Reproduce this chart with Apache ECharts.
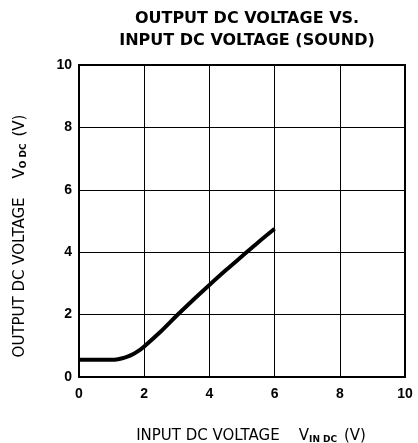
<!DOCTYPE html>
<html>
<head>
<meta charset="utf-8">
<script src="https://cdn.jsdelivr.net/npm/echarts@6/dist/echarts.min.js"></script>
<style>
  html, body { margin: 0; padding: 0; background: #fff; }
  #chart { width: 418px; height: 443px; }
</style>
</head>
<body>
<div id="chart"></div>
<script>
// input DC voltage (V) and output DC voltage (V)
const vIn  = [0, 0.5, 1.0, 1.2, 1.4, 1.6, 1.8, 2.0, 2.5, 3.0, 3.5, 4.0, 4.5, 5.0, 5.5, 6.0];
const vOut = [0.55, 0.55, 0.55, 0.57, 0.62, 0.7, 0.82, 0.98, 1.45, 1.97, 2.47, 2.95, 3.42, 3.87, 4.32, 4.75];
const xTicks = [0, 2, 4, 6, 8, 10];
const yTicks = [0, 2, 4, 6, 8, 10];

const chart = echarts.init(document.getElementById('chart'));

const font = '"Liberation Sans", Arial, sans-serif';
const wide = '"DejaVu Sans", sans-serif';

const option = {
  animation: false,
  title: {
    text: 'OUTPUT DC VOLTAGE VS.\nINPUT DC VOLTAGE (SOUND)',
    left: 242,
    textAlign: 'center',
    top: 3,
    textStyle: {
      fontFamily: wide,
      fontWeight: 'bold',
      fontSize: 16,
      lineHeight: 22,
      color: '#000'
    }
  },
  grid: {
    left: 79,
    right: 13,
    top: 65,
    bottom: 66,
    containLabel: false,
    outerBoundsMode: 'none',
    show: true,
    borderColor: '#000',
    borderWidth: 2
  },
  xAxis: {
    type: 'value',
    min: 0,
    max: 10,
    interval: 2,
    name: '{a|INPUT DC VOLTAGE    V}{s|IN DC}{a| (V)}',
    nameLocation: 'middle',
    nameGap: 52,
    nameTextStyle: {
      padding: [0, 0, 0, 18],
      rich: {
        a: { fontFamily: wide, fontSize: 15, color: '#000' },
        s: { fontFamily: wide, fontSize: 9, color: '#000', fontWeight: 'bold', padding: [6, 2, 0, 0] }
      }
    },
    axisLine: { show: true, lineStyle: { color: '#000', width: 2 } },
    axisTick: { show: false },
    axisLabel: {
      color: '#000',
      fontFamily: font,
      fontWeight: 'bold',
      fontSize: 14,
      margin: 10,
      formatter: v => xTicks.includes(v) ? String(v) : ''
    },
    splitLine: { show: true, lineStyle: { color: '#000', width: 1 } }
  },
  yAxis: {
    type: 'value',
    min: 0,
    max: 10,
    interval: 2,
    name: '{a|OUTPUT DC VOLTAGE    V}{s|O DC}{a| (V)}',
    nameLocation: 'middle',
    nameGap: 51,
    nameTextStyle: {
      padding: [0, 30, 0, 0],
      rich: {
        a: { fontFamily: wide, fontSize: 15, color: '#000' },
        s: { fontFamily: wide, fontSize: 9, color: '#000', fontWeight: 'bold', padding: [6, 2, 0, 0] }
      }
    },
    axisLine: { show: true, lineStyle: { color: '#000', width: 2 } },
    axisTick: { show: false },
    axisLabel: {
      color: '#000',
      fontFamily: font,
      fontWeight: 'bold',
      fontSize: 14,
      margin: 7,
      formatter: v => yTicks.includes(v) ? String(v) : ''
    },
    splitLine: { show: true, lineStyle: { color: '#000', width: 1 } }
  },
  series: [
    {
      type: 'line',
      data: vIn.map((x, i) => [x, vOut[i]]),
      smooth: 0.3,
      showSymbol: false,
      lineStyle: { color: '#000', width: 4 }
    }
  ]
};

chart.setOption(option);
</script>
</body>
</html>
